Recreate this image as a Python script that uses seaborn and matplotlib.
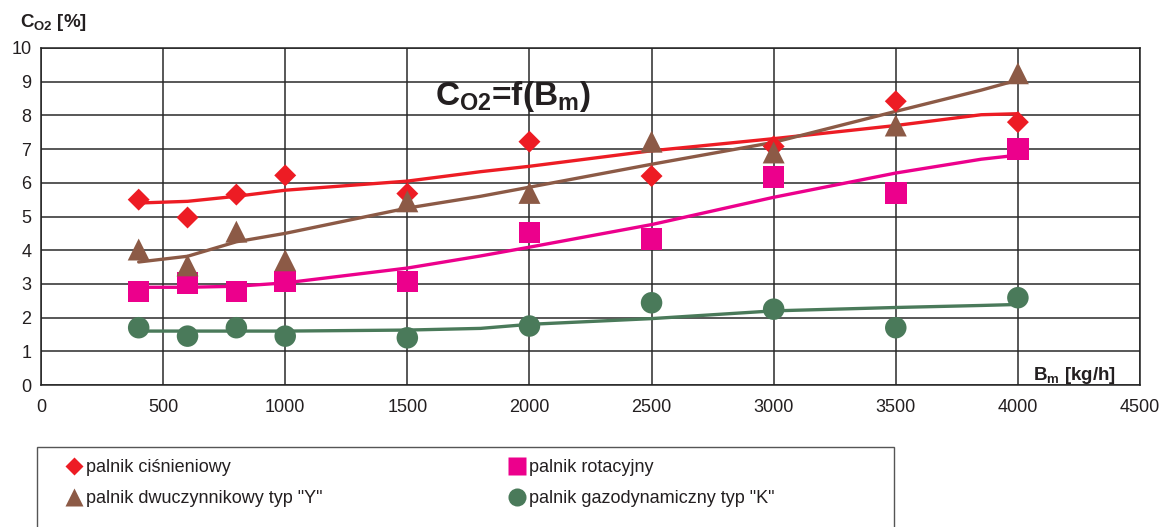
import matplotlib
matplotlib.use("Agg")
import matplotlib.pyplot as plt
import seaborn as sns
import pandas as pd
from matplotlib.lines import Line2D
from matplotlib.patches import Rectangle

# ---- data ----
x_pts = [400, 600, 800, 1000, 1500, 2000, 2500, 3000, 3500, 4000]
cisnieniowy = [5.5, 4.97, 5.65, 6.22, 5.68, 7.22, 6.2, 7.08, 8.42, 7.8]
dwuczynnikowy = [4.02, 3.55, 4.55, 3.7, 5.45, 5.7, 7.22, 6.9, 7.7, 9.25]
rotacyjny = [2.78, 3.03, 2.78, 3.07, 3.07, 4.52, 4.33, 6.17, 5.7, 7.0]
gazodynamiczny = [1.7, 1.45, 1.7, 1.45, 1.4, 1.75, 2.44, 2.25, 1.7, 2.59]

trend_x = [400, 600, 800, 1000, 1500, 1800, 2000, 2500, 3000, 3500, 3850, 4000]
trend_cisn = [5.4, 5.45, 5.6, 5.78, 6.05, 6.33, 6.49, 6.95, 7.31, 7.7, 8.02, 8.05]
trend_dwucz = [3.65, 3.82, 4.25, 4.5, 5.25, 5.6, 5.87, 6.55, 7.2, 8.12, 8.75, 9.05]
trend_rotac = [2.9, 2.9, 2.93, 3.03, 3.47, 3.83, 4.09, 4.76, 5.57, 6.29, 6.7, 6.82]
trend_gazod = [1.6, 1.6, 1.6, 1.6, 1.63, 1.68, 1.8, 1.97, 2.2, 2.3, 2.36, 2.39]

labels = ["palnik ciśnieniowy", "palnik rotacyjny",
          'palnik dwuczynnikowy typ "Y"', 'palnik gazodynamiczny typ "K"']
x_ticks = [0, 500, 1000, 1500, 2000, 2500, 3000, 3500, 4000, 4500]
y_ticks = list(range(0, 11))

RED = "#ED1C24"
PINK = "#EC008C"
BROWN = "#8C5A46"
GREEN = "#4A7A5A"
TXT = "#231F20"

sns.set_style("white")
plt.rcParams["font.family"] = ["Liberation Sans", "DejaVu Sans"]
plt.rcParams["mathtext.fontset"] = "custom"
plt.rcParams["mathtext.rm"] = "Liberation Sans"
plt.rcParams["mathtext.it"] = "Liberation Sans:italic"
plt.rcParams["mathtext.bf"] = "Liberation Sans:bold"

fig = plt.figure(figsize=(11.6, 5.27), dpi=100)
ax = fig.add_axes([41 / 1160, 1 - 385 / 527, (1140 - 41) / 1160, (385 - 48) / 527])

ax.set_xlim(0, 4500)
ax.set_ylim(0, 10)
ax.set_xticks(x_ticks)
ax.set_yticks(y_ticks)
ax.grid(True, color="#2a2a2a", lw=1.1)
ax.set_axisbelow(True)
for s in ax.spines.values():
    s.set_color("#222222")
    s.set_linewidth(1.1)
ax.tick_params(direction="out", length=4, width=1, color="#222222",
               labelsize=13, labelcolor=TXT)
ax.tick_params(axis="x", pad=6)
ax.tick_params(axis="y", pad=3)

lw = 2.4
series_lines = [(trend_cisn, RED), (trend_dwucz, BROWN), (trend_rotac, PINK), (trend_gazod, GREEN)]
for ys, c in series_lines:
    sns.lineplot(x=trend_x, y=ys, color=c, lw=lw, ax=ax, sort=False,
                 estimator=None, zorder=3)

sns.scatterplot(x=x_pts, y=cisnieniowy, marker="D", s=125, color=RED,
                edgecolor="none", ax=ax, zorder=4)
sns.scatterplot(x=x_pts, y=rotacyjny, marker="s", s=240, color=PINK,
                edgecolor="none", ax=ax, zorder=4)
sns.scatterplot(x=x_pts, y=dwuczynnikowy, marker="^", s=250, color=BROWN,
                edgecolor="none", ax=ax, zorder=5)
sns.scatterplot(x=x_pts, y=gazodynamiczny, marker="o", s=240, color=GREEN,
                edgecolor="none", ax=ax, zorder=5)
ax.set_xlabel("")
ax.set_ylabel("")

# texts
ax.text(1933, 8.31, r"$\mathbf{C_{O2}}$=f($\mathbf{B_m}$)", ha="center", va="baseline",
        fontsize=24, fontweight="bold", color=TXT)
ax.text(4402, 0.15, r"$\mathbf{B_{m}}$ [kg/h]", ha="right", va="baseline",
        fontsize=13.5, fontweight="bold", color=TXT)
fig.text(20 / 1160, 1 - 27 / 527, r"$\mathbf{C_{O2}}$ [%]", ha="left",
         va="baseline", fontsize=13.5, fontweight="bold", color=TXT)

# legend frame
fig.patches.append(Rectangle((37 / 1160, -0.1), (894 - 37) / 1160, 0.1 + 1 - 447 / 527,
                             transform=fig.transFigure, fill=False,
                             edgecolor="#555555", lw=1.0))

h_red = Line2D([], [], ls="none", marker="D", ms=9.5, color=RED, mec="none")
h_brown = Line2D([], [], ls="none", marker="^", ms=13.5, color=BROWN, mec="none")
h_pink = Line2D([], [], ls="none", marker="s", ms=13, color=PINK, mec="none")
h_green = Line2D([], [], ls="none", marker="o", ms=13, color=GREEN, mec="none")

common = dict(loc="upper left", frameon=False, fontsize=13, borderpad=0,
              borderaxespad=0, handlelength=0.8, handletextpad=0.25,
              labelspacing=0.8)
leg1 = fig.legend([h_red, h_brown], [labels[0], labels[2]],
                  bbox_to_anchor=(67 / 1160, 1 - 459 / 527), **common)
leg2 = fig.legend([h_pink, h_green], [labels[1], labels[3]],
                  bbox_to_anchor=(510 / 1160, 1 - 459 / 527), **common)
for lg in (leg1, leg2):
    for t in lg.get_texts():
        t.set_color(TXT)

fig.savefig("out.png", dpi=100)
